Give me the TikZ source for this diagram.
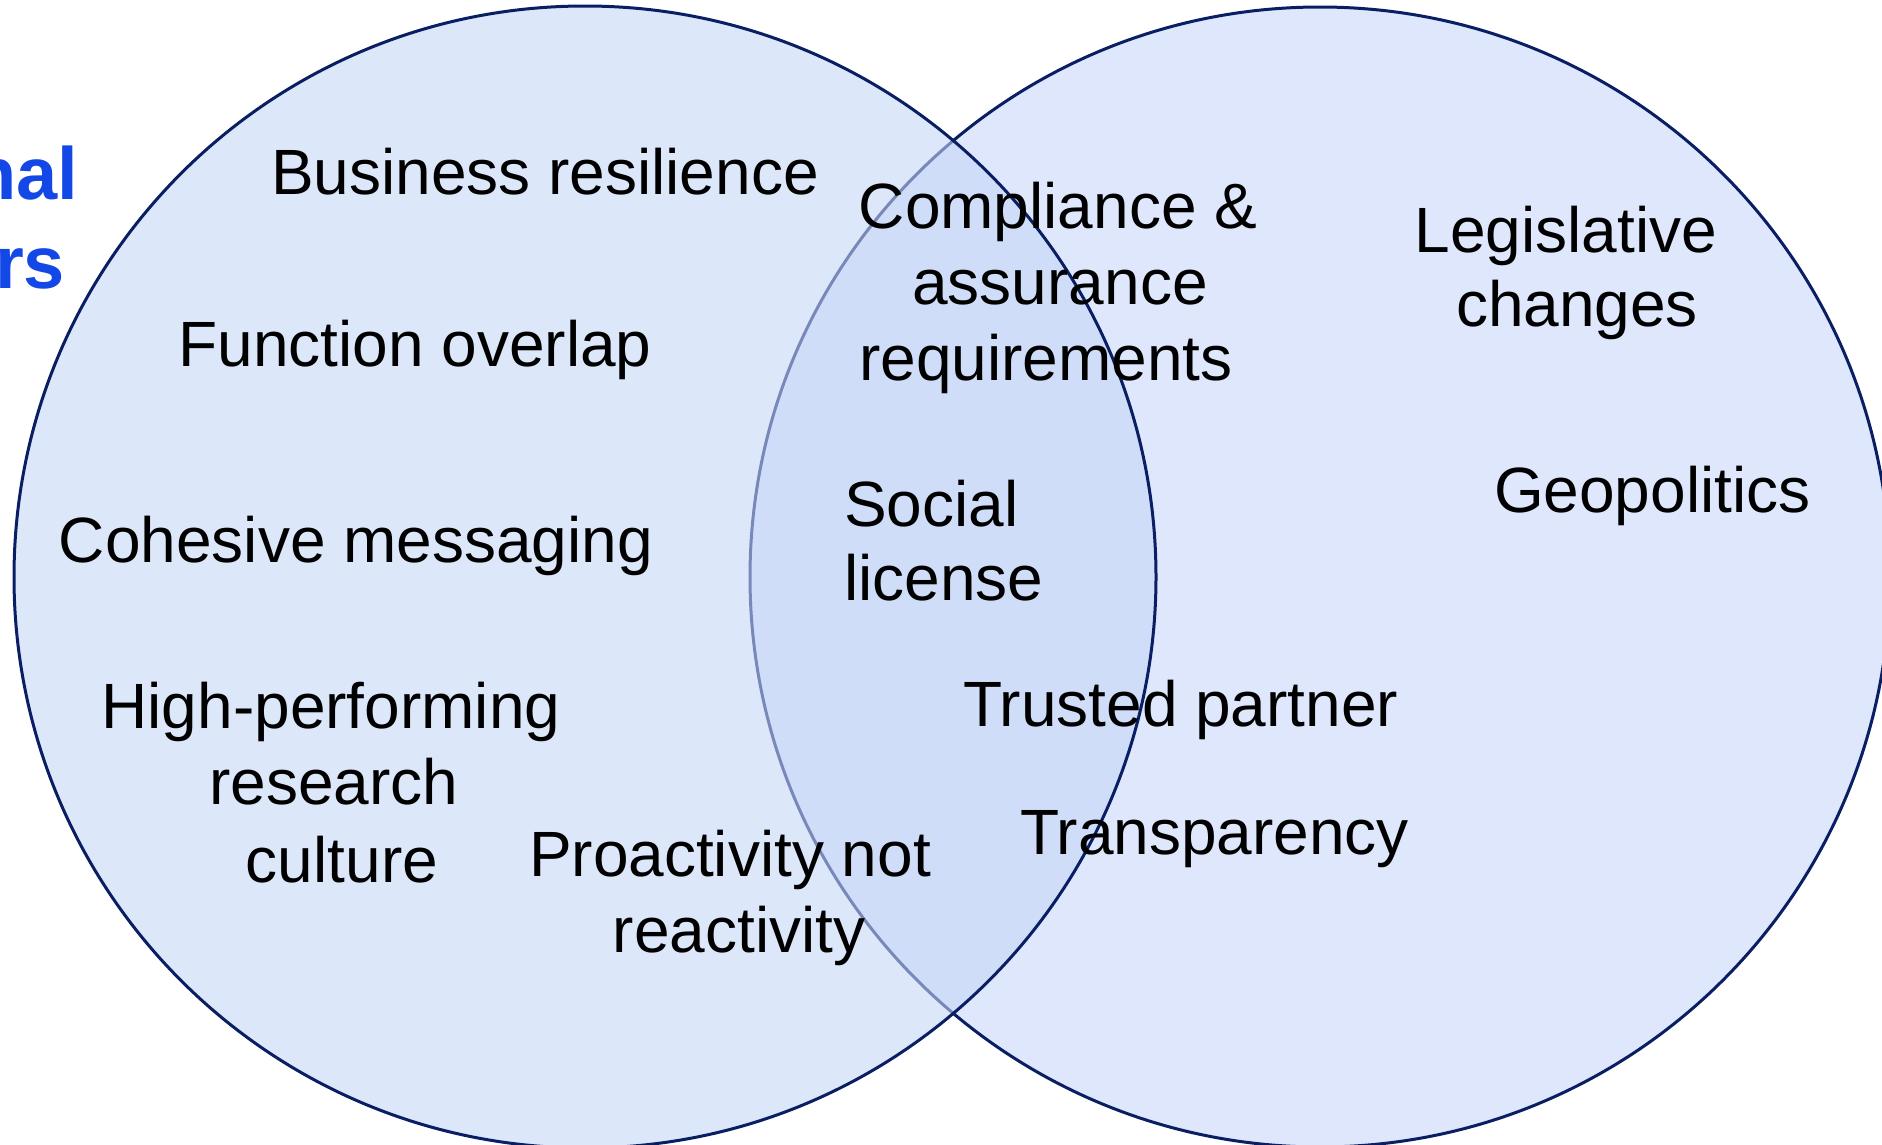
\documentclass[tikz,border=0pt]{standalone}
\usepackage{fontspec}
\setmainfont{Liberation Sans}
\definecolor{navy}{RGB}{10,30,100}
\definecolor{fillR}{RGB}{222,231,251}
\definecolor{fillL}{RGB}{198,214,248}
\definecolor{titleblue}{RGB}{20,72,230}
\begin{document}
\begin{tikzpicture}[x=1pt,y=-1pt,
  circ/.style={draw=navy, line width=3pt},
  lbl/.style={inner sep=0pt, outer sep=0pt, text=black, font=\fontsize{64}{76}\selectfont},
  ttl/.style={inner sep=0pt, outer sep=0pt, text=titleblue, font=\fontsize{74}{89}\selectfont\bfseries}]
\clip (0,0) rectangle (1882,1144);
\fill[white] (0,0) rectangle (1882,1144);
% circles
\path[circ, fill=fillR] (1320,577) circle[radius=570pt];
\path[circ, fill=fillL, fill opacity=0.58] (585,577) circle[radius=571pt];
% partial title
\node[ttl, anchor=base east] (t1) at (78,199) {nal};
\node[ttl, anchor=base east] (t2) at (65,288) {rs};
% left-only labels
\node[lbl, anchor=base] (br) at (545,194) {Business resilience};
\node[lbl, anchor=base] (fo) at (415,366) {Function overlap};
\node[lbl, anchor=base] (cm) at (356,562) {Cohesive messaging};
\node[lbl, anchor=base] (hp1) at (331,728) {High-performing};
\node[lbl, anchor=base] (hp2) at (334,804) {research};
\node[lbl, anchor=base] (hp3) at (342,882) {culture};
\node[lbl, anchor=base] (pa1) at (730,876) {Proactivity not};
\node[lbl, anchor=base] (pa2) at (739,952) {reactivity};
% overlap labels
\node[lbl, anchor=base] (cp1) at (1058,228) {Compliance \&};
\node[lbl, anchor=base] (cp2) at (1060,304) {assurance};
\node[lbl, anchor=base] (cp3) at (1046,380) {requirements};
\node[lbl, anchor=base west] (sl1) at (844,526) {Social};
\node[lbl, anchor=base west] (sl2) at (844,600) {license};
% right labels
\node[lbl, anchor=base] (lg1) at (1566,252) {Legislative};
\node[lbl, anchor=base] (lg2) at (1577,326) {changes};
\node[lbl, anchor=base west] (geo) at (1494,512) {Geopolitics};
\node[lbl, anchor=base west] (tp) at (963,726) {Trusted partner};
\node[lbl, anchor=base west] (tr) at (1020,854) {Transparency};
\end{tikzpicture}
\end{document}
